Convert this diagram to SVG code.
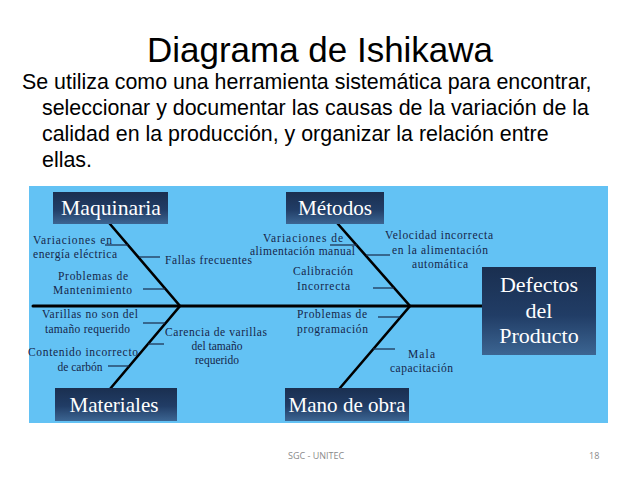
<svg xmlns="http://www.w3.org/2000/svg" width="638" height="479" viewBox="0 0 638 479">
<style>
.title{font-family:"Liberation Sans",Arial,sans-serif;font-size:35px;fill:#000}
.para{font-family:"Liberation Sans",Arial,sans-serif;font-size:21.4px;fill:#000}
.lbl{font-family:"Liberation Serif","Times New Roman",serif;font-size:11.5px;fill:#16264a}
.mid{text-anchor:middle}
.box{fill:url(#boxg)}
.bt{font-family:"Liberation Serif","Times New Roman",serif;font-size:21px;fill:#fff;text-anchor:middle}
.bt2{font-family:"Liberation Serif","Times New Roman",serif;font-size:22px;fill:#fff;text-anchor:middle}
.bone{stroke:#000;stroke-width:2.6;fill:none;stroke-linecap:round}
.tick{stroke:#1a2a4a;stroke-width:1.2}
.foot{font-family:"Open Sans","Liberation Sans",sans-serif;font-size:9px;fill:#8a8a8a}
</style>
<defs>
<linearGradient id="boxg" x1="0" y1="0" x2="0" y2="1">
<stop offset="0" stop-color="#1a2f50"/>
<stop offset="0.55" stop-color="#213d66"/>
<stop offset="1" stop-color="#3c6592"/>
</linearGradient>
</defs>
<rect width="638" height="479" fill="#fff"/>
<text class="title" x="147" y="62" textLength="346" lengthAdjust="spacingAndGlyphs">Diagrama de Ishikawa</text>
<text class="para" x="22" y="89">Se utiliza como una herramienta sistemática para encontrar,</text>
<text class="para" x="42" y="115">seleccionar y documentar las causas de la variación de la</text>
<text class="para" x="42" y="141">calidad en la producción, y organizar la relación entre</text>
<text class="para" x="42" y="167">ellas.</text>

<rect x="29" y="186" width="579" height="237" fill="#63c2f4"/>

<g id="connectors">
<line class="bone" x1="33" y1="306" x2="482" y2="306" style="stroke-width:3"/>
<polyline class="bone" points="110,224 180,306 110,389"/>
<polyline class="bone" points="338,224 410,306 340,388"/>
<line class="tick" x1="105" y1="245" x2="128" y2="245"/>
<line class="tick" x1="139" y1="257" x2="160" y2="257"/>
<line class="tick" x1="143" y1="289" x2="165" y2="289"/>
<line class="tick" x1="143" y1="323" x2="165" y2="323"/>
<line class="tick" x1="148" y1="344" x2="164" y2="344"/>
<line class="tick" x1="108" y1="366" x2="129" y2="366"/>
<line class="tick" x1="330" y1="245" x2="357" y2="245"/>
<line class="tick" x1="366" y1="255" x2="390" y2="255"/>
<line class="tick" x1="373" y1="288" x2="394" y2="288"/>
<line class="tick" x1="378" y1="317" x2="400" y2="317"/>
<line class="tick" x1="373" y1="349" x2="395" y2="349"/>
</g>

<g id="maquinaria">
<rect class="box" x="53" y="192" width="115" height="32"/>
<text class="bt" x="111" y="215" textLength="100" lengthAdjust="spacingAndGlyphs">Maquinaria</text>
</g>
<g id="metodos">
<rect class="box" x="286" y="192" width="98" height="32"/>
<text class="bt" x="335" y="215" textLength="74" lengthAdjust="spacingAndGlyphs">Métodos</text>
</g>
<g id="materiales">
<rect class="box" x="55" y="388" width="122" height="33"/>
<text class="bt" x="114" y="412" textLength="89" lengthAdjust="spacingAndGlyphs">Materiales</text>
</g>
<g id="mano-de-obra">
<rect class="box" x="285" y="388" width="124" height="33"/>
<text class="bt" x="347" y="412" textLength="117" lengthAdjust="spacingAndGlyphs">Mano de obra</text>
</g>
<g id="defectos">
<rect class="box" x="482" y="267" width="114" height="88"/>
<text class="bt2" x="539" y="292">Defectos</text>
<text class="bt2" x="539" y="318">del</text>
<text class="bt2" x="539" y="343">Producto</text>
</g>

<g id="causas-maquinaria">
<text class="lbl" x="33" y="244" textLength="79" lengthAdjust="spacing">Variaciones en</text>
<text class="lbl" x="33" y="258" textLength="84" lengthAdjust="spacing">energía eléctrica</text>
<text class="lbl" x="165" y="264" textLength="87" lengthAdjust="spacing">Fallas frecuentes</text>
<text class="lbl" x="58" y="280" textLength="70" lengthAdjust="spacing">Problemas de</text>
<text class="lbl" x="53" y="294" textLength="79" lengthAdjust="spacing">Mantenimiento</text>
</g>
<g id="causas-materiales">
<text class="lbl" x="42" y="318" textLength="96" lengthAdjust="spacing">Varillas no son del</text>
<text class="lbl" x="45" y="333" textLength="85" lengthAdjust="spacing">tamaño requerido</text>
<text class="lbl" x="28" y="356" textLength="110" lengthAdjust="spacing">Contenido incorrecto</text>
<text class="lbl mid" x="80" y="371">de carbón</text>
<text class="lbl" x="165" y="336" textLength="102" lengthAdjust="spacing">Carencia de varillas</text>
<text class="lbl mid" x="217" y="350">del tamaño</text>
<text class="lbl mid" x="217" y="364">requerido</text>
</g>
<g id="causas-metodos">
<text class="lbl" x="263" y="242" textLength="80" lengthAdjust="spacing">Variaciones de</text>
<text class="lbl" x="250" y="255" textLength="105" lengthAdjust="spacing">alimentación manual</text>
<text class="lbl" x="293" y="275" textLength="60" lengthAdjust="spacing">Calibración</text>
<text class="lbl" x="297" y="290" textLength="53" lengthAdjust="spacing">Incorrecta</text>
<text class="lbl" x="385" y="239" textLength="108" lengthAdjust="spacing">Velocidad incorrecta</text>
<text class="lbl" x="392" y="254" textLength="96" lengthAdjust="spacing">en la alimentación</text>
<text class="lbl" x="412" y="268" textLength="56" lengthAdjust="spacing">automática</text>
</g>
<g id="causas-mano-de-obra">
<text class="lbl" x="297" y="318" textLength="70" lengthAdjust="spacing">Problemas de</text>
<text class="lbl" x="297" y="333" textLength="71" lengthAdjust="spacing">programación</text>
<text class="lbl" x="408" y="358" textLength="27" lengthAdjust="spacing">Mala</text>
<text class="lbl" x="390" y="372" textLength="63" lengthAdjust="spacing">capacitación</text>
</g>

<text class="foot" x="288" y="459">SGC - UNITEC</text>
<text class="foot" x="589" y="459">18</text>
</svg>
